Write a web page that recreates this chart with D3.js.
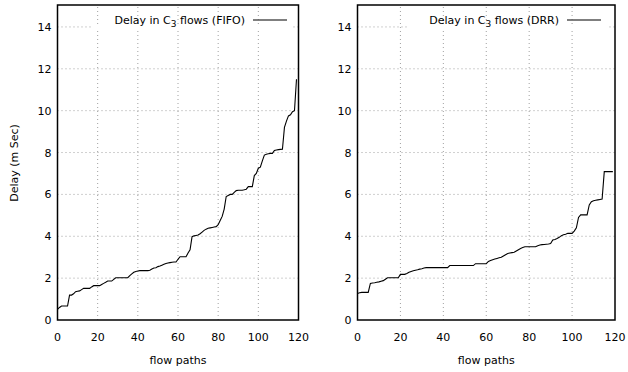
<!DOCTYPE html>
<html>
<head>
<meta charset="utf-8">
<script src="https://cdn.jsdelivr.net/npm/d3@7"></script>
<style>
  body { margin: 0; background: #fff; }
  svg text { font-family: "DejaVu Sans", sans-serif; font-size: 11px; fill: #000; }
  .grid line { stroke: #a0a0a0; stroke-width: 1; stroke-dasharray: 1,3; }
</style>
</head>
<body>
<div id="chart"></div>
<script>
// delay per flow path (flow index 0..119)
const fifoDelay = [
  0.51, 0.60, 0.67, 0.67, 0.67, 0.67, 1.19, 1.19, 1.25, 1.35,
  1.37, 1.39, 1.45, 1.51, 1.51, 1.51, 1.51, 1.58, 1.64, 1.64,
  1.64, 1.64, 1.70, 1.75, 1.80, 1.86, 1.86, 1.86, 1.94, 2.02,
  2.02, 2.02, 2.02, 2.02, 2.02, 2.02, 2.12, 2.20, 2.28, 2.32,
  2.34, 2.36, 2.36, 2.36, 2.36, 2.36, 2.38, 2.44, 2.48, 2.50,
  2.55, 2.58, 2.62, 2.66, 2.70, 2.72, 2.74, 2.76, 2.77, 2.77,
  2.90, 3.02, 3.02, 3.02, 3.02, 3.20, 3.35, 3.98, 4.02, 4.04,
  4.06, 4.12, 4.20, 4.28, 4.34, 4.38, 4.40, 4.42, 4.44, 4.46,
  4.55, 4.75, 4.95, 5.30, 5.90, 5.95, 6.00, 6.00, 6.10, 6.18,
  6.20, 6.20, 6.20, 6.22, 6.25, 6.37, 6.37, 6.37, 6.90, 7.00,
  7.25, 7.30, 7.60, 7.88, 7.92, 7.94, 7.96, 7.96, 8.10, 8.12,
  8.14, 8.15, 8.16, 9.20, 9.50, 9.75, 9.80, 9.95, 10.00, 11.50
];
const drrDelay = [
  1.27, 1.30, 1.32, 1.32, 1.32, 1.32, 1.75, 1.77, 1.78, 1.80,
  1.82, 1.85, 1.88, 1.95, 2.02, 2.02, 2.02, 2.02, 2.02, 2.02,
  2.18, 2.18, 2.18, 2.22, 2.28, 2.32, 2.35, 2.38, 2.40, 2.43,
  2.45, 2.48, 2.50, 2.50, 2.50, 2.50, 2.50, 2.50, 2.50, 2.50,
  2.50, 2.50, 2.50, 2.60, 2.60, 2.60, 2.60, 2.60, 2.60, 2.60,
  2.60, 2.60, 2.60, 2.60, 2.60, 2.69, 2.69, 2.69, 2.69, 2.69,
  2.69, 2.80, 2.84, 2.88, 2.91, 2.94, 2.97, 3.00, 3.06, 3.12,
  3.18, 3.20, 3.22, 3.24, 3.30, 3.36, 3.42, 3.46, 3.50, 3.50,
  3.50, 3.50, 3.50, 3.50, 3.55, 3.58, 3.60, 3.61, 3.62, 3.63,
  3.65, 3.82, 3.85, 3.89, 3.95, 4.03, 4.07, 4.10, 4.14, 4.14,
  4.14, 4.25, 4.40, 4.90, 5.02, 5.02, 5.02, 5.02, 5.50, 5.65,
  5.70, 5.72, 5.74, 5.76, 5.78, 7.09, 7.09, 7.09, 7.09, 7.09
];
const xTicks = [0, 20, 40, 60, 80, 100, 120];
const yTicks = [0, 2, 4, 6, 8, 10, 12, 14];
const panels = [
  { values: fifoDelay, tag: 'FIFO', left: 57.5, right: 298.5, legendEnd: 245, yLabel: true },
  { values: drrDelay, tag: 'DRR', left: 357.5, right: 615, legendEnd: 559, yLabel: false }
];

const width = 628;
const height = 372;
const plotTop = 6;
const plotBottom = 320;

const svg = d3.select('#chart')
  .append('svg')
  .attr('width', width)
  .attr('height', height);

panels.forEach((p) => {
  const x = d3.scaleLinear().domain([0, 120]).range([p.left, p.right]);
  const y = d3.scaleLinear().domain([0, 15]).range([plotBottom, plotTop]);
  const g = svg.append('g');

  // grid
  const grid = g.append('g').attr('class', 'grid');
  grid.selectAll('.gx')
    .data(xTicks.slice(1, -1))
    .join('line')
    .attr('x1', (d) => x(d)).attr('x2', (d) => x(d))
    .attr('y1', plotBottom).attr('y2', plotTop);
  grid.selectAll('.gy')
    .data(yTicks.slice(1))
    .join('line')
    .attr('x1', p.left).attr('x2', p.right)
    .attr('y1', (d) => y(d)).attr('y2', (d) => y(d));

  // tick labels
  g.selectAll('.xt')
    .data(xTicks)
    .join('text')
    .attr('x', (d) => x(d))
    .attr('y', plotBottom + 21)
    .attr('text-anchor', 'middle')
    .text((d) => d);
  g.selectAll('.yt')
    .data(yTicks)
    .join('text')
    .attr('x', p.left - 6)
    .attr('y', (d) => y(d) + 4)
    .attr('text-anchor', 'end')
    .text((d) => d);

  g.append('text')
    .attr('x', (p.left + p.right) / 2)
    .attr('y', 364)
    .attr('text-anchor', 'middle')
    .text('flow paths');

  if (p.yLabel) {
    g.append('text')
      .attr('transform', `translate(18, ${(plotTop + plotBottom) / 2}) rotate(-90)`)
      .attr('text-anchor', 'middle')
      .text('Delay (m Sec)');
  }

  // curve
  const line = d3.line()
    .x((d, i) => x(i))
    .y((d) => y(d));
  g.append('path')
    .datum(p.values)
    .attr('fill', 'none')
    .attr('stroke', '#000')
    .attr('stroke-width', 1.1)
    .attr('d', line);

  // legend
  const leg = g.append('text')
    .attr('x', p.legendEnd)
    .attr('y', 24)
    .attr('text-anchor', 'end');
  leg.append('tspan').text('Delay in C');
  leg.append('tspan').attr('dy', 3).attr('font-size', '9px').text('3');
  leg.append('tspan').attr('dy', -3).text(` flows (${p.tag})`);
  const bb = leg.node().getBBox();
  g.insert('rect', 'text')
    .attr('x', bb.x - 22)
    .attr('y', y(14) - 2)
    .attr('width', p.right - 6 - (bb.x - 22))
    .attr('height', 4)
    .attr('fill', '#fff');
  g.append('line')
    .attr('x1', p.legendEnd + 8)
    .attr('x2', p.legendEnd + 42)
    .attr('y1', 20).attr('y2', 20)
    .attr('stroke', '#555')
    .attr('stroke-width', 1.3);

  // frame
  g.append('rect')
    .attr('x', p.left)
    .attr('y', plotTop - 1)
    .attr('width', p.right - p.left)
    .attr('height', plotBottom - plotTop + 1)
    .attr('fill', 'none')
    .attr('stroke', '#000')
    .attr('stroke-width', 1.5);
});
</script>
</body>
</html>
